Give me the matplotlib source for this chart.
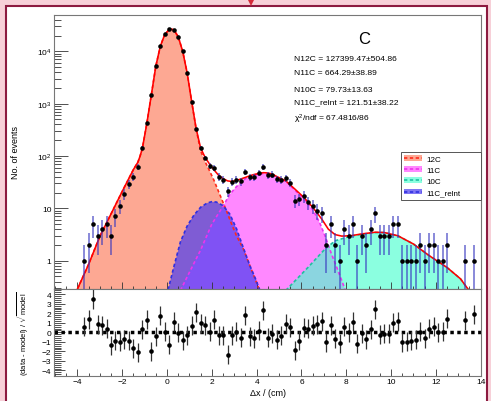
import numpy as np
import matplotlib
matplotlib.use('Agg')
import matplotlib.pyplot as plt
from matplotlib.patches import Rectangle, Polygon, Patch
from matplotlib.lines import Line2D
from matplotlib.ticker import FixedLocator, FixedFormatter, MultipleLocator, NullFormatter

plt.rcParams['font.family'] = ['Liberation Sans', 'DejaVu Sans']
plt.rcParams['mathtext.fontset'] = 'custom'
plt.rcParams['mathtext.rm'] = 'Liberation Sans'
plt.rcParams['mathtext.it'] = 'Liberation Sans:italic'

# Data (bin centres, counts)
x_bins = [-3.7, -3.5, -3.3, -3.1, -2.9, -2.7, -2.5, -2.3, -2.1, -1.9,
          -1.7, -1.5, -1.3, -1.1, -0.9, -0.7, -0.5, -0.3, -0.1, 0.1,
          0.3, 0.5, 0.7, 0.9, 1.1, 1.3, 1.5, 1.7, 1.9, 2.1,
          2.3, 2.5, 2.7, 2.9, 3.1, 3.3, 3.5, 3.7, 3.9, 4.1,
          4.3, 4.5, 4.7, 4.9, 5.1, 5.3, 5.5, 5.7, 5.9, 6.1,
          6.3, 6.5, 6.7, 6.9, 7.1, 7.3, 7.5, 7.7, 7.9, 8.1,
          8.3, 8.5, 8.7, 8.9, 9.1, 9.3, 9.5, 9.7, 9.9, 10.1,
          10.3, 10.5, 10.7, 10.9, 11.1, 11.3, 11.5, 11.7, 11.9, 12.1,
          12.3, 12.5, 13.3, 13.7]
counts = [1, 2, 5, 3, 4, 5, 3, 7, 11, 19,
          29, 40, 61, 144, 422, 1460, 5170, 12500, 21000, 26300,
          25900, 19000, 10000, 3850, 1090, 328, 142, 92, 65, 59,
          40, 35, 21, 32, 35, 33, 50, 39, 39, 48,
          62, 43, 44, 36, 35, 38, 31, 14, 15, 17,
          13, 11, 9, 8, 2, 5, 2, 1, 4, 3,
          5, 1, 3, 2, 4, 8, 3, 3, 3, 5,
          5, 1, 1, 1, 1, 2, 1, 2, 2, 1,
          1, 2, 1, 1]
pulls = [0.6, 1.35, 3.5, 0.85, 0.75, 0.4, -1.35, -0.9, -1.0, -0.75,
         -0.9, -1.65, -2.1, 0.3, 1.3, -2.0, -0.4, 1.75, 0.05, -1.3,
         1.1, -0.05, -0.85, -0.3, 0.7, 2.1, 0.95, 0.75, 0.05, 1.3,
         -0.3, -0.3, -2.35, -0.3, 0.05, -0.55, 1.8, -0.4, -0.6, 0.15,
         2.3, -0.55, -0.15, -0.8, -0.35, 0.9, 0.55, -1.9, -0.9, 0.5,
         0.4, 0.7, 0.85, 1.15, -1.05, 0.75, -0.65, -1.15, 0.6, 0.0,
         1.1, -1.2, -0.1, -0.75, 0.3, 2.4, -0.25, -0.15, -0.15, 1.0,
         1.15, -1.05, -1.0, -0.9, -0.8, 0.05, -0.6, 0.4, 0.6, 0.0,
         0.05, 1.45, 1.25, 1.9]
pull_err = 1.0

# Fit curves
x_tot = [-4.1, -3.5, -3.0, -2.5, -2.0, -1.5, -1.3, -1.2, -1.1, -0.9,
         -0.7, -0.5, -0.3, -0.1, 0.1, 0.2, 0.3, 0.5, 0.7, 0.9,
         1.1, 1.3, 1.5, 1.7, 1.9, 2.1, 2.3, 2.5, 2.7, 2.9,
         3.1, 3.3, 3.5, 3.7, 3.9, 4.1, 4.3, 4.5, 4.7, 4.9,
         5.3, 5.7, 6.1, 6.5, 6.9, 7.2, 7.5, 7.8, 8.2, 8.7,
         9.3, 9.7, 10.3, 11.0, 11.7, 12.5, 13.1, 13.4, 13.55]
y_tot = [0.23, 0.85, 2.9, 7.8, 21, 55, 76, 100, 140, 420,
         1460, 5170, 12400, 21000, 26000, 26300, 25800, 19000, 10000, 3850,
         1100, 335, 142, 94, 70, 54, 43, 37, 33.5, 32.5,
         34, 36.5, 39, 42, 44.5, 46.5, 48, 47.5, 45, 40.5,
         33.5, 23.5, 16.3, 10.5, 6.3, 4.0, 3.15, 2.95, 3.0, 3.25,
         3.5, 3.45, 3.0, 2.08, 1.25, 0.74, 0.45, 0.3, 0.24]

x_12c = [-4.1, -3.5, -3.0, -2.5, -2.0, -1.5, -1.3, -1.2, -1.1, -0.9,
         -0.7, -0.5, -0.3, -0.1, 0.1, 0.2, 0.3, 0.5, 0.7, 0.9,
         1.1, 1.3, 1.5, 1.7, 1.9, 2.1, 2.3, 2.5, 2.7, 2.9,
         3.1, 3.4, 3.7, 4.15]
y_12c = [0.23, 0.85, 2.9, 7.8, 21, 55, 76, 100, 140, 420,
         1460, 5170, 12400, 21000, 26000, 26300, 25800, 19000, 10000, 3850,
         1100, 327, 125, 78, 52, 34, 21, 13, 8, 4.8,
         3.0, 1.7, 0.8, 0.26]

x_11c = [0.6, 1.0, 1.5, 2.0, 2.5, 2.8, 3.1, 3.5, 3.9, 4.3,
         4.7, 4.9, 5.3, 5.7, 6.1, 6.5, 6.8, 7.05, 7.3, 7.6, 7.95]
y_11c = [0.27, 0.6, 1.6, 5.0, 11.0, 18.5, 26, 37, 43, 46.5,
         44, 39.5, 33, 22.5, 15, 9.5, 5.5, 3.0, 1.5, 0.7, 0.28]

x_10c = [5.3, 5.8, 6.3, 6.7, 7.05, 7.5, 8.2, 8.7, 9.3, 9.7,
         10.3, 11.0, 11.7, 12.5, 13.1, 13.4, 13.55]
y_10c = [0.27, 0.45, 0.75, 1.15, 1.67, 2.4, 2.95, 3.2, 3.45, 3.45,
         3.0, 2.08, 1.25, 0.74, 0.45, 0.3, 0.24]

x_rel = [0.05, 0.3, 0.6, 0.9, 1.2, 1.5, 1.8, 2.0, 2.2, 2.5,
         2.8, 3.1, 3.4, 3.7, 3.95, 4.15]
y_rel = [0.28, 0.75, 2.3, 4.6, 7.4, 10.5, 12.7, 13.4, 13.2, 11.3,
         7.8, 4.1, 1.8, 0.8, 0.45, 0.27]

labels = ['12C', '11C', '10C', '11C_relnt']
fills = ['#fda893', '#ff88ff', '#4dffd0', '#4a3cf0']
alphas = [1.0, 1.0, 0.65, 0.7]
edges = ['#ff2a1a', '#ee33ee', '#20c0a0', '#3030e0']
stats = ['N12C = 127399.47\u00b1504.86',
         'N11C = 664.29\u00b138.89',
         'N10C = 79.73\u00b113.63',
         'N11C_relnt = 121.51\u00b138.22',
         '\u03c7$^{2}$/ndf = 67.4816/86']

W, H = 491, 402
fig = plt.figure(figsize=(W / 100, H / 100), dpi=100, facecolor='#f7d0d8')
fig.patches.append(Rectangle((6 / W, -0.05), (487 - 6) / W, 1.05 - 7 / H,
                             transform=fig.transFigure, facecolor='white',
                             edgecolor='#8c1a40', linewidth=1.5, zorder=-10))
fig.patches.append(Polygon([(247.5 / W, 1.0), (254.5 / W, 1.0), (251 / W, 1 - 7 / H)],
                           closed=True, transform=fig.transFigure,
                           facecolor='#d42a3a', edgecolor='none', zorder=-9))

ax1 = fig.add_axes([54.3 / W, 1 - 290 / H, 426.4 / W, 274.3 / H])
ax2 = fig.add_axes([54.3 / W, 1 - 376.7 / H, 426.4 / W, 86.7 / H])

curves = [(x_12c, y_12c), (x_11c, y_11c), (x_10c, y_10c), (x_rel, y_rel)]
for (xc, yc), fc, a, ec in zip(curves, fills, alphas, edges):
    ax1.fill_between(xc, 1e-3, yc, facecolor=fc, alpha=a, linewidth=0)
    ax1.plot(xc, yc, color=ec, linestyle=(0, (2, 1.5)), linewidth=1.2)

ax1.plot(x_tot, y_tot, color='#ff0000', linewidth=1.15)
yerr = np.sqrt(counts)
ax1.errorbar(x_bins, counts, yerr=yerr, fmt='none', ecolor='#3838c0',
             elinewidth=1.1, alpha=0.75)
ax1.plot(x_bins, counts, 'o', color='black', markersize=3.3, markeredgewidth=0)

ax1.set_yscale('log')
ax1.set_xlim(-5.03, 14.0)
ax1.set_ylim(0.288, 50000)
ax1.yaxis.set_major_locator(FixedLocator([1, 10, 100, 1000, 10000]))
ax1.yaxis.set_major_formatter(FixedFormatter(['1', '10', '$10^{2}$', '$10^{3}$', '$10^{4}$']))
ax1.xaxis.set_major_locator(MultipleLocator(2))
ax1.xaxis.set_minor_locator(MultipleLocator(0.5))
ax1.xaxis.set_major_formatter(NullFormatter())
ax1.tick_params(which='both', direction='in', labelsize=6, color='#333333',
                width=0.6, pad=2)
ax1.tick_params(axis='y', which='major', length=10)
ax1.tick_params(axis='y', which='minor', length=5)
ax1.tick_params(axis='x', which='major', length=5)
ax1.tick_params(axis='x', which='minor', length=2.5)
ax1.set_ylabel('No. of events', fontsize=6.5, labelpad=12)

handles = [(Patch(facecolor=fc, alpha=a), Line2D([], [], color=ec, linestyle=(0, (2, 1.5)), linewidth=1.2))
           for fc, a, ec in zip(fills, alphas, edges)]
leg = ax1.legend(handles, labels, loc='upper left', bbox_to_anchor=(0.813, 0.5006, 0.187, 0.0),
                 mode='expand', fontsize=5.8, frameon=True, fancybox=False,
                 edgecolor='#555555', framealpha=1, borderaxespad=0,
                 handlelength=2.2, handletextpad=0.5, labelspacing=0.45, borderpad=0.4)
leg.get_frame().set_linewidth(0.7)

fig.text(364 / W, 1 - 40 / H, 'C', fontsize=12, ha='center', va='center')
y_stats = [59.3, 74, 90, 103, 119]
for s, yy in zip(stats, y_stats):
    fig.text(294 / W, 1 - yy / H, s, fontsize=6.1, ha='left', va='center')

ax2.axhline(0, color='black', linestyle=(0, (1, 1)), linewidth=2.5)
ax2.errorbar(x_bins, pulls, yerr=pull_err, fmt='o', color='black',
             ecolor='#333333', elinewidth=0.9, markersize=3.3, markeredgewidth=0)
ax2.set_xlim(-5.03, 14.0)
ax2.set_ylim(-4.55, 4.55)
ax2.xaxis.set_major_locator(MultipleLocator(2))
ax2.xaxis.set_minor_locator(MultipleLocator(0.5))
ax2.yaxis.set_major_locator(MultipleLocator(1))
ax2.yaxis.set_minor_locator(MultipleLocator(0.2))
ax2.tick_params(which='both', direction='in', labelsize=6, color='#333333',
                width=0.6, pad=2)
ax2.tick_params(axis='y', which='major', length=8)
ax2.tick_params(axis='y', which='minor', length=5)
ax2.tick_params(axis='x', which='major', length=5)
ax2.tick_params(axis='x', which='minor', length=2.5)
ax2.set_xlabel('\u0394x / (cm)', fontsize=6.5, labelpad=2)
ax2.set_ylabel('(data - model) / $\\sqrt{\\mathrm{model}}$', fontsize=5.5, labelpad=8)

for ax in (ax1, ax2):
    for sp in ax.spines.values():
        sp.set_color('#777777')
        sp.set_linewidth(0.8)

fig.savefig('out.png', dpi=100, facecolor=fig.get_facecolor())
